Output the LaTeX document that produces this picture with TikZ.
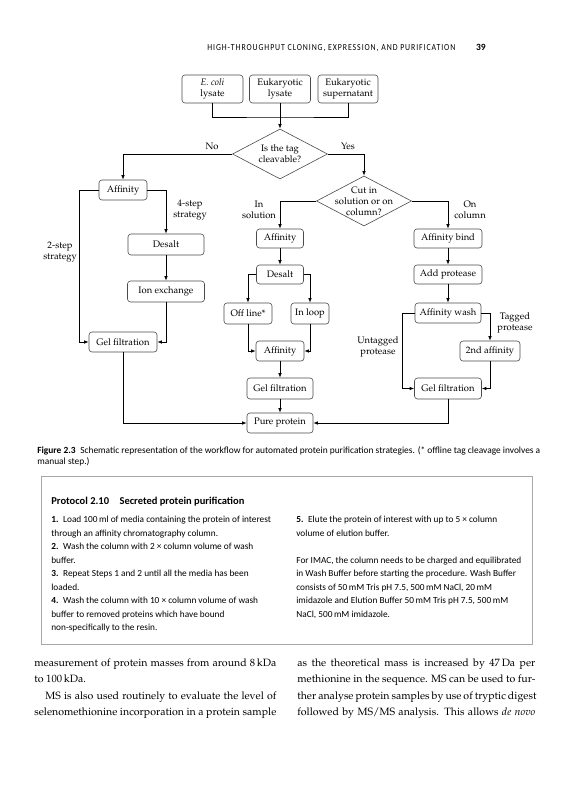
\documentclass[tikz,border=0pt]{standalone}
\usepackage[T1]{fontenc}
\usepackage{fontspec}
\setsansfont{Carlito}
\newfontfamily\headfont[LetterSpace=10,FakeStretch=0.85]{Carlito}
\usetikzlibrary{arrows.meta,positioning,shapes.geometric}
\definecolor{frame}{HTML}{A8A8A8}
\definecolor{edge}{HTML}{4A4A4A}
\newcommand\palfont{\fontencoding{T1}\fontfamily{ppl}\selectfont}
\newcommand\chartfont{\palfont\fontsize{9.4}{11}\selectfont}

\begin{document}
\begin{tikzpicture}[x=1pt,y=-1pt,>={Latex[length=4.5pt,width=3.5pt]},line width=0.7pt,
        proc/.style={draw=edge,rounded corners=3pt,line width=0.6pt,align=center,
                     minimum height=20pt,inner sep=1pt,font=\chartfont},
        decision/.style={draw=edge,diamond,line width=0.6pt,minimum width=95pt,
                         minimum height=50pt,inner sep=0pt},
        note/.style={align=center,inner sep=0pt,font=\chartfont},
        steps/.style={anchor=north west,align=left,inner sep=0pt,
                      font=\sffamily\fontsize{9.3}{13.5}\selectfont},
        body/.style={anchor=north west,align=left,inner sep=0pt,
                     font=\palfont\fontsize{10.6}{16.5}\selectfont}]
  \useasboundingbox (0,0) rectangle (572,800);
  % running head
  \node[anchor=base west,inner sep=0pt,font=\headfont\fontsize{9.2}{10}\selectfont] (runhead) at (207,51)
       {HIGH-THROUGHPUT CLONING, EXPRESSION, AND PURIFICATION};
  \node[anchor=base east,inner sep=0pt,font=\sffamily\bfseries\fontsize{9.5}{10}\selectfont] (folio) at (486,51) {39};

  % sources
  \node[proc,minimum width=61pt,minimum height=28pt] (ecoli) at (212.5,89) {\textit{E. coli}\\lysate};
  \node[proc,minimum width=61pt,minimum height=28pt] (eulys) at (280,89) {Eukaryotic\\lysate};
  \node[proc,minimum width=60pt,minimum height=28pt] (eusup) at (348,89) {Eukaryotic\\supernatant};
  \coordinate (bus) at (280,117);
  \draw (ecoli.south) |- (bus) -| (eusup.south);

  \node[decision] (tag) at (280,154) {};
  \node[note] (tagtxt) at (tag) {Is the tag\\cleavable?};
  \draw[->] (eulys.south) -- (tag.north);
  \node[note] (no) at (212,146) {No};
  \node[note] (yes) at (348,146) {Yes};

  % no cleavage
  \node[proc,minimum width=48pt] (aff1) at (123,190) {Affinity};
  \node[proc,minimum width=76pt,minimum height=21pt] (desalt1) at (166,244.5) {Desalt};
  \node[proc,minimum width=77pt,minimum height=21pt] (ionex) at (166,291.5) {Ion exchange};
  \node[proc,minimum width=68pt] (gel1) at (123,342) {Gel filtration};
  \node[note] (four) at (190,210) {4-step\\strategy};
  \node[note] (two) at (60,252) {2-step\\strategy};
  \draw[->] (tag.west) -| (aff1.north);
  \draw[->] (aff1.east) -| (desalt1.north);
  \draw[->] (desalt1) -- (ionex);
  \draw[->] (ionex.south) |- (gel1.east);
  \draw[->] (aff1.west) -- ++(-19,0) |- (gel1.west);

  % cleavage
  \node[decision] (cut) at (364,201) {};
  \node[note] (cuttxt) at (cut) {Cut in\\solution or on\\column?};
  \draw[->] (tag.east) -| (cut.north);
  \node[note] (insol) at (259,210) {In\\solution};
  \node[note] (oncol) at (470,210) {On\\column};

  \node[proc,minimum width=47pt,minimum height=19pt] (aff2) at (280,238.5) {Affinity};
  \node[proc,minimum width=47pt,minimum height=19pt] (desalt2) at (280,274.5) {Desalt};
  \node[proc,minimum width=48pt,minimum height=21pt] (offline) at (248,313.5) {Off line*};
  \node[proc,minimum width=38pt,minimum height=21pt] (inloop) at (310,313.5) {In loop};
  \node[proc,minimum width=48pt] (aff3) at (280,351) {Affinity};
  \node[proc,minimum width=66pt,minimum height=21pt] (gel2) at (280,388.5) {Gel filtration};
  \node[proc,minimum width=66pt] (pure) at (280,423) {Pure protein};
  \draw[->] (cut.west) -| (aff2.north);
  \draw[->] (aff2) -- (desalt2);
  \draw[->] (desalt2.west) -| (offline.north);
  \draw[->] (desalt2.east) -| (inloop.north);
  \draw[->] (offline.south) |- (aff3.west);
  \draw[->] (inloop.south) |- (aff3.east);
  \draw[->] (aff3) -- (gel2);
  \draw[->] (gel2) -- (pure);
  \draw[->] (gel1.south) |- (pure.west);

  \node[proc,minimum width=68pt,minimum height=19pt] (bind) at (448,238.5) {Affinity bind};
  \node[proc,minimum width=68pt,minimum height=19pt] (addprot) at (448,274.5) {Add protease};
  \node[proc,minimum width=66pt] (wash) at (448,313) {Affinity wash};
  \node[proc,minimum width=60pt] (second) at (490,351) {2nd affinity};
  \node[proc,minimum width=67pt,minimum height=21pt] (gel3) at (448,388.5) {Gel filtration};
  \node[note] (untag) at (378,347) {Untagged\\protease};
  \node[note] (tagged) at (515,323) {Tagged\\protease};
  \draw[->] (cut.east) -| (bind.north);
  \draw[->] (bind) -- (addprot);
  \draw[->] (addprot) -- (wash);
  \draw[->] (wash.west) -- ++(-12,0) |- (gel3.west);
  \draw[->] (wash.east) -| (second.north);
  \draw[->] (second.south) |- (gel3.east);
  \draw[->] (gel3.south) |- (pure.east);

  % caption
  \node[anchor=north west,align=left,inner sep=0pt,font=\sffamily\fontsize{9.4}{11}\selectfont] (caption) at (37,446)
       {\textbf{Figure 2.3}\enspace Schematic representation of the workflow for automated protein purification strategies. (* offline tag cleavage involves a\\
        manual step.)};

  % protocol box
  \draw[frame,line width=0.9pt] (41,476) rectangle (532,644);
  \node[anchor=base west,inner sep=0pt,font=\sffamily\bfseries\fontsize{10.5}{13}\selectfont] (ptitle) at (51,504)
       {Protocol 2.10\quad Secreted protein purification};
  \node[steps] (stepsa) at (51,516)
       {\textbf{1.}\enspace Load 100\,ml of media containing the protein of interest\\
        through an affinity chromatography column.\\
        \textbf{2.}\enspace Wash the column with 2 × column volume of wash\\
        buffer.\\
        \textbf{3.}\enspace Repeat Steps 1 and 2 until all the media has been\\
        loaded.\\
        \textbf{4.}\enspace Wash the column with 10 × column volume of wash\\
        buffer to removed proteins which have bound\\
        non-specifically to the resin.};
  \node[steps] (stepsb) at (296,516)
       {\textbf{5.}\enspace Elute the protein of interest with up to 5 × column\\
        volume of elution buffer.\\[13.5pt]
        For IMAC, the column needs to be charged and equilibrated\\
        in Wash Buffer before starting the procedure. Wash Buffer\\
        consists of 50\,mM Tris pH 7.5, 500\,mM NaCl, 20\,mM\\
        imidazole and Elution Buffer 50\,mM Tris pH 7.5, 500\,mM\\
        NaCl, 500\,mM imidazole.};

  % running text
  \node[body] (cola) at (34,658)
       {\makebox[242pt][s]{measurement of protein masses from around 8\,kDa}\\
        to 100\,kDa.\\
        \makebox[242pt][s]{\hspace*{11pt}MS is also used routinely to evaluate the level of}\\
        \makebox[242pt][s]{selenomethionine incorporation in a protein sample}};
  \node[body] (colb) at (297,658)
       {\makebox[238pt][s]{as the theoretical mass is increased by 47\,Da per}\\
        \makebox[238pt][s]{methionine in the sequence. MS can be used to fur-}\\
        \makebox[238pt][s]{ther analyse protein samples by use of tryptic digest}\\
        \makebox[238pt][s]{followed by MS/MS analysis. This allows \textit{de novo}}};
\end{tikzpicture}
\end{document}
